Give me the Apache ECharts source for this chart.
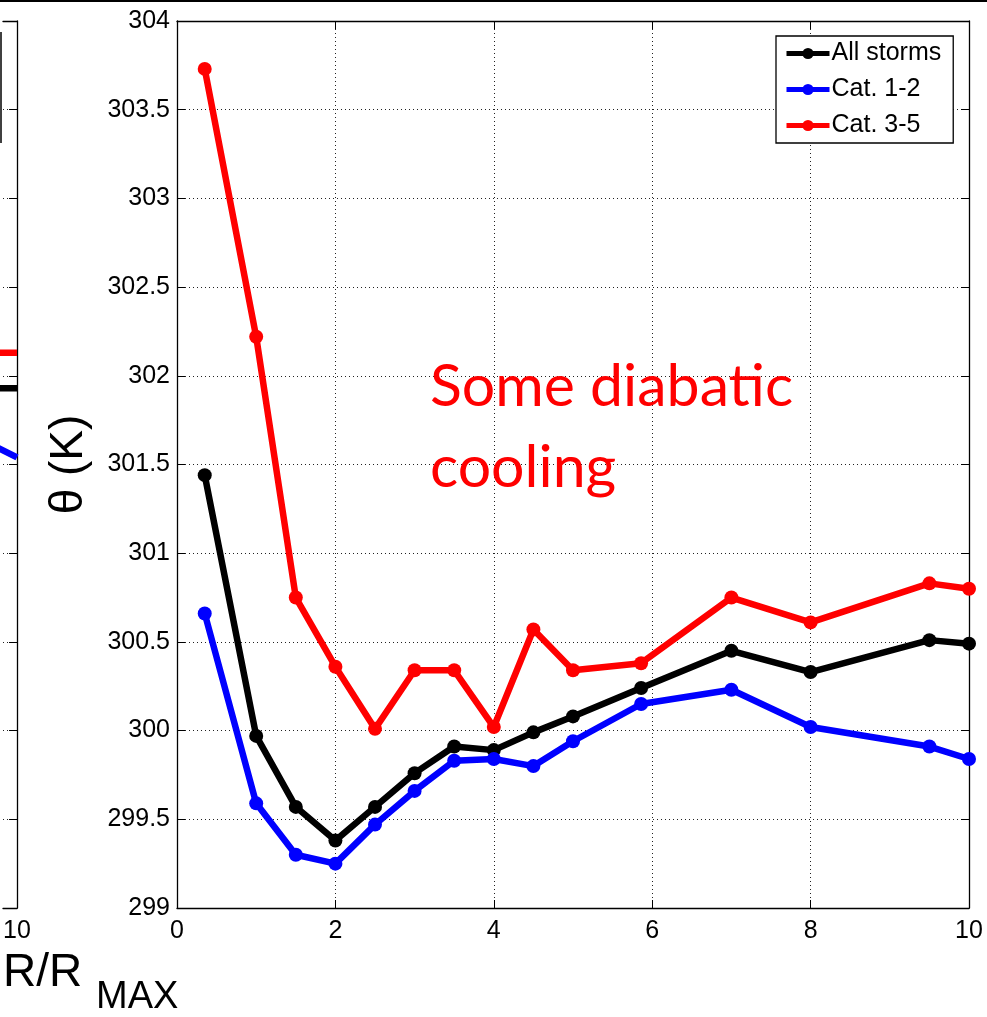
<!DOCTYPE html>
<html>
<head>
<meta charset="utf-8">
<script src="https://cdn.jsdelivr.net/npm/echarts@6/dist/echarts.min.js"></script>
<style>
html,body{margin:0;padding:0;background:#fff;}
#chart{width:987px;height:1017px;}
</style>
</head>
<body>
<div id="chart"></div>
<script>
// ---- data ----
var radius = [0.35, 1, 1.5, 2, 2.5, 3, 3.5, 4, 4.5, 5, 5.86, 7, 8, 9.5, 10];
var allStorms = [301.44, 299.97, 299.57, 299.38, 299.57, 299.76, 299.91, 299.89, 299.99, 300.08, 300.24, 300.45, 300.33, 300.51, 300.49];
var cat12 = [300.66, 299.59, 299.30, 299.25, 299.47, 299.66, 299.83, 299.84, 299.80, 299.94, 300.15, 300.23, 300.02, 299.91, 299.84];
var cat35 = [303.73, 302.22, 300.75, 300.36, 300.01, 300.34, 300.34, 300.02, 300.57, 300.34, 300.38, 300.75, 300.61, 300.83, 300.80];
// neighbouring (cropped) panel on the left: only its last stretch is visible
var leftRadius = [9.5, 10];
var leftAll = [301.93, 301.93];
var leftCat12 = [301.64, 301.54];
var leftCat35 = [302.13, 302.13];
var leftVisibleX = [9.8, 10];
var xTicks = [0, 2, 4, 6, 8, 10];
var yTicks = [299, 299.5, 300, 300.5, 301, 301.5, 302, 302.5, 303, 303.5, 304];
var seriesNames = ['All storms', 'Cat. 1-2', 'Cat. 3-5'];

function pairs(xs, ys){ return xs.map(function(x,i){ return [x, ys[i]]; }); }

var FONT = '"Liberation Sans", Arial, Helvetica, sans-serif';
var dotted = {type:[1,3], color:'#222', width:1};

function xAx(grid, pos, labels, split, mn, mx, iv){
  return {
    type:'value', gridIndex:grid, position:pos, min:mn, max:mx, interval:iv,
    axisLine:{show:true, onZero:false, lineStyle:{color:'#000', width:1.3}},
    axisTick:{show:grid===0, inside:true, length:8, lineStyle:{color:'#000', width:1}},
    axisLabel:{show:labels, color:'#000', fontSize:25, fontFamily:FONT, margin:11,
      formatter:function(v){ return (grid===1 && v!==10) ? '' : String(v); }},
    splitLine:{show:split, lineStyle:dotted}
  };
}
function yAx(grid, pos, labels, split, name, line){
  return {
    type:'value', gridIndex:grid, position:pos, min:yTicks[0], max:yTicks[yTicks.length-1], interval:0.5,
    name:name||'', nameLocation:'middle', nameGap:85, nameRotate:90,
    nameTextStyle:{color:'#000', fontSize:46, fontFamily:FONT},
    axisLine:{show:line, onZero:false, lineStyle:{color:'#000', width:1.3}},
    axisTick:{show:line, inside:true, length:8, lineStyle:{color:'#000', width:1}},
    axisLabel:{show:labels, color:'#000', fontSize:25, fontFamily:FONT, margin:7,
      formatter:function(v){ return String(Math.round(v*10)/10); }},
    splitLine:{show:split, lineStyle:dotted}
  };
}
function lineSeries(name, color, xs, ys, xi, yi, sym){
  return {
    type:'line', name:name, xAxisIndex:xi, yAxisIndex:yi, data:pairs(xs, ys),
    symbol:'circle', symbolSize:14, showSymbol:sym,
    lineStyle:{color:color, width:6.5}, itemStyle:{color:color},
    emphasis:{disabled:true}, animation:false, clip:true, z:3
  };
}

var chart = echarts.init(document.getElementById('chart'), null, {renderer:'canvas'});
chart.setOption({
  backgroundColor:'#fff',
  animation:false,
  grid:[
    {left:177, top:21, width:792, height:887},
    {left:0, top:21, width:17, height:887}
  ],
  xAxis:[
    xAx(0,'bottom',true,true,xTicks[0],xTicks[xTicks.length-1],2),
    xAx(0,'top',false,false,xTicks[0],xTicks[xTicks.length-1],2),
    xAx(1,'bottom',true,false,leftVisibleX[0],leftVisibleX[1],0.2),
    xAx(1,'top',false,false,leftVisibleX[0],leftVisibleX[1],0.2)
  ],
  yAxis:[
    yAx(0,'left',true,true,'\u03b8 (K)',true),
    yAx(0,'right',false,false,'',true),
    yAx(1,'left',false,true,'',false),
    yAx(1,'right',false,false,'',true)
  ],
  legend:{
    data:seriesNames, left:776, top:36, orient:'vertical',
    padding:[5,12,5,8], itemGap:11, itemWidth:43, itemHeight:14,
    backgroundColor:'#fff', borderColor:'#000', borderWidth:1.3, borderRadius:0,
    lineStyle:{width:5},
    textStyle:{color:'#000', fontSize:25, fontFamily:FONT, lineHeight:24, padding:[0,0,0,-3]},
    selectedMode:false
  },
  series:[
    lineSeries('All storms', '#000000', radius, allStorms, 0, 0, true),
    lineSeries('Cat. 1-2', '#0000ff', radius, cat12, 0, 0, true),
    lineSeries('Cat. 3-5', '#ff0000', radius, cat35, 0, 0, true),
    lineSeries('left All storms', '#000000', leftRadius, leftAll, 2, 2, false),
    lineSeries('left Cat. 1-2', '#0000ff', leftRadius, leftCat12, 2, 2, false),
    lineSeries('left Cat. 3-5', '#ff0000', leftRadius, leftCat35, 2, 2, false)
  ],
  graphic:[
    {type:'line', shape:{x1:0, y1:1, x2:987, y2:1}, style:{stroke:'#000', lineWidth:2}, z:10},
    {type:'line', shape:{x1:1, y1:32, x2:1, y2:143}, style:{stroke:'#000', lineWidth:1.5}, z:10},
    {type:'text', left:430, top:357, style:{text:'Some diabatic', fill:'#ff0000', fontSize:59, fontFamily:'Lato, "Open Sans", sans-serif'}, z:10},
    {type:'text', left:430, top:438, style:{text:'cooling', fill:'#ff0000', fontSize:59, fontFamily:'Lato, "Open Sans", sans-serif'}, z:10},
    {type:'text', left:3, top:950, style:{text:'R/R', fill:'#000', fontSize:46, fontFamily:FONT}, z:10},
    {type:'text', left:96, top:979, style:{text:'MAX', fill:'#000', fontSize:38, fontFamily:FONT}, z:10}
  ]
});
</script>
</body>
</html>
